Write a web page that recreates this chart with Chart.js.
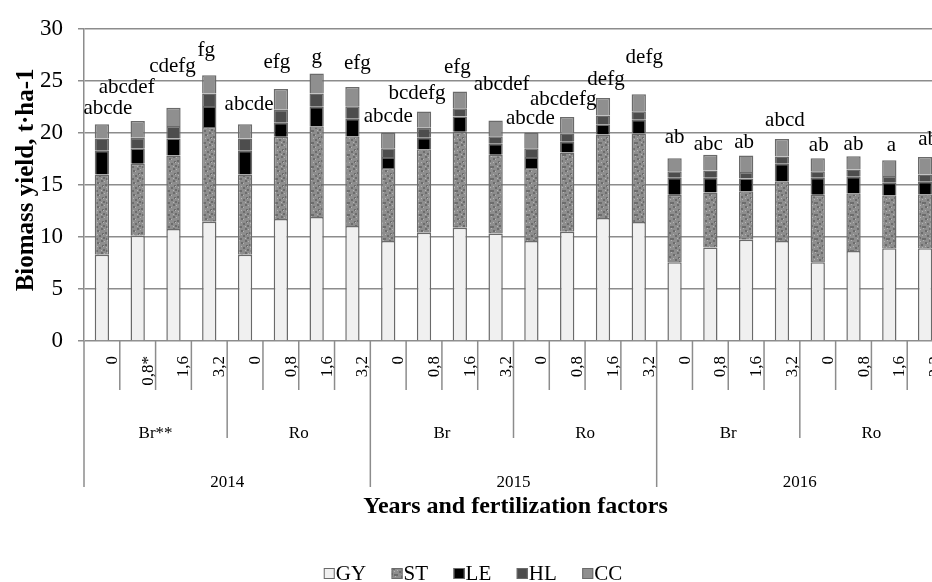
<!DOCTYPE html>
<html>
<head>
<meta charset="utf-8">
<script src="https://cdn.jsdelivr.net/npm/chart.js@4.4.1/dist/chart.umd.min.js"></script>
<style>
  html, body { margin: 0; padding: 0; background: #fff; overflow: hidden; }
  #wrap { width: 932px; height: 582px; overflow: hidden; position: relative; }
  canvas { display: block; }
</style>
</head>
<body>
<div id="wrap"><canvas id="chart" width="946" height="582"></canvas></div>
<script>
// Fertilization doses (t/ha) per bar, grouped by tillage system and year
const doses = ['0', '0,8*', '1,6', '3,2', '0', '0,8', '1,6', '3,2',
               '0', '0,8', '1,6', '3,2', '0', '0,8', '1,6', '3,2',
               '0', '0,8', '1,6', '3,2', '0', '0,8', '1,6', '3,2'];
const systems = ['Br**', 'Ro', 'Br', 'Ro', 'Br', 'Ro'];
const years = ['2014', '2015', '2016'];
const seriesNames = ['GY', 'ST', 'LE', 'HL', 'CC'];

// Biomass components, t ha-1
const GY = [8.29, 10.11, 10.77, 11.46, 8.29, 11.72, 11.91, 11.06,
            9.61, 10.39, 10.89, 10.33, 9.61, 10.49, 11.81, 11.43,
            7.56, 8.98, 9.73, 9.61, 7.56, 8.66, 8.91, 8.91];
const ST = [7.71, 6.93, 7.06, 9.11, 7.71, 7.91, 8.72, 8.62,
            7.02, 8.04, 9.21, 7.56, 7.02, 7.62, 8.03, 8.51,
            6.49, 5.29, 4.66, 5.73, 6.49, 5.54, 5.10, 5.20];
const LE = [2.27, 1.48, 1.64, 2.01, 2.27, 1.35, 1.89, 1.68,
            1.04, 1.10, 1.47, 1.07, 1.04, 1.04, 0.98, 1.32,
            1.64, 1.42, 1.23, 1.70, 1.64, 1.58, 1.20, 1.20];
const HL = [1.20, 1.01, 1.20, 1.20, 1.20, 1.23, 1.26, 1.20,
            0.85, 0.95, 0.80, 0.72, 0.85, 0.79, 0.85, 0.82,
            0.63, 0.69, 0.63, 0.70, 0.63, 0.69, 0.64, 0.69];
const CC = [1.35, 1.61, 1.75, 1.76, 1.35, 2.01, 1.92, 1.85,
            1.51, 1.57, 1.60, 1.51, 1.51, 1.58, 1.67, 1.64,
            1.23, 1.51, 1.58, 1.66, 1.23, 1.29, 1.51, 1.67];

// Significance letters over each stacked bar
const letters = ['abcde', 'abcdef', 'cdefg', 'fg', 'abcde', 'efg', 'g', 'efg',
                 'abcde', 'bcdefg', 'efg', 'abcdef', 'abcde', 'abcdefg', 'defg', 'defg',
                 'ab', 'abc', 'ab', 'abcd', 'ab', 'ab', 'a', 'ab'];

const SERIF = '"Liberation Serif", "Times New Roman", serif';
const GRID = '#8c8c8c';
const EDGE = '#6a6a6a';

// Grainy grey fill used for straw
function grainFill(ctx) {
  const p = document.createElement('canvas');
  p.width = 12; p.height = 12;
  const g = p.getContext('2d');
  g.fillStyle = '#8d8d8d';
  g.fillRect(0, 0, 12, 12);
  g.fillStyle = '#6c6c6c';
  [[1, 2], [5, 0], [9, 4], [3, 7], [7, 9], [10, 10], [0, 10], [6, 5]]
    .forEach(([x, y]) => g.fillRect(x, y, 2, 2));
  g.fillStyle = '#b4b4b4';
  [[3, 3], [8, 1], [1, 6], [10, 7], [5, 10], [7, 6], [11, 0]]
    .forEach(([x, y]) => g.fillRect(x, y, 1, 1));
  return ctx.createPattern(p, 'repeat');
}

const canvas = document.getElementById('chart');
const ctx = canvas.getContext('2d');
const fills = ['#f0f0f0', grainFill(ctx), '#000000', '#4d4d4d', '#8f8f8f'];
const values = [GY, ST, LE, HL, CC];

// Horizontal shift and lift (px) of each letter group relative to its bar top
const letterShift = [6, -11, -1, -3, 4, -4, 0, 5, 0, -7, -2.5, 6, -1, -4, 3, 5.5, 0, -2, -2, 3, 1, 0, 2, 3];
const letterLift = [10, 28, 36, 19, 14.7, 21.4, 10.7, 17.7, 10.7, 12.7, 19, 30.7, 9, 12.3, 13, 31, 15.3, 5, 7.3, 13, 7, 6.3, 9, 12.3];

const barLetters = {
  id: 'barLetters',
  afterDatasetsDraw(chart) {
    const c = chart.ctx;
    const topMeta = chart.getDatasetMeta(seriesNames.length - 1);
    c.save();
    c.font = '21px ' + SERIF;
    c.fillStyle = '#000';
    c.textAlign = 'center';
    c.textBaseline = 'alphabetic';
    topMeta.data.forEach((bar, i) => {
      c.fillText(letters[i], bar.x + letterShift[i], bar.y - letterLift[i]);
    });
    c.restore();
  }
};

// Multi-level category axis: doses, tillage systems, years, plus titles and legend
const axisDecor = {
  id: 'axisDecor',
  afterDraw(chart) {
    const c = chart.ctx;
    const a = chart.chartArea;
    const x = chart.scales.x;
    const step = x.getPixelForValue(1) - x.getPixelForValue(0);
    const edge = i => x.getPixelForValue(0) - step / 2 + i * step;
    c.save();
    c.strokeStyle = GRID;
    c.lineWidth = 1.5;
    for (let i = 0; i <= doses.length; i++) {
      const px = edge(i);
      let drop = 49;
      if (i % 8 === 0) drop = 146;
      else if (i % 4 === 0) drop = 97;
      c.beginPath();
      c.moveTo(px, a.bottom);
      c.lineTo(px, a.bottom + drop);
      c.stroke();
    }

    c.fillStyle = '#000';
    // dose labels, rotated
    c.font = '17px ' + SERIF;
    doses.forEach((d, i) => {
      c.save();
      c.translate(x.getPixelForValue(i) + 15, a.bottom + 15);
      c.rotate(-Math.PI / 2);
      c.textAlign = 'right';
      c.textBaseline = 'alphabetic';
      c.fillText(d, 0, 0);
      c.restore();
    });
    // tillage systems
    c.textAlign = 'center';
    c.textBaseline = 'alphabetic';
    systems.forEach((s, k) => {
      c.fillText(s, (edge(k * 4) + edge(k * 4 + 4)) / 2, a.bottom + 97);
    });
    // years
    years.forEach((y, k) => {
      c.fillText(y, (edge(k * 8) + edge(k * 8 + 8)) / 2, a.bottom + 145.5);
    });

    // axis titles
    c.font = 'bold 24px ' + SERIF;
    c.fillText('Years and fertilization factors', (a.left + a.right) / 2 + 2, a.bottom + 172);
    c.save();
    c.translate(33, (a.top + a.bottom) / 2 - 5);
    c.rotate(-Math.PI / 2);
    c.font = 'bold 25px ' + SERIF;
    c.textAlign = 'center';
    c.fillText('Biomass yield, t\u00B7ha-1', 0, 0);
    c.restore();

    // legend
    c.font = '21px ' + SERIF;
    const box = 11, gap = 1, space = 25.5;
    const widths = seriesNames.map(n => box + gap + c.measureText(n).width);
    const total = widths.reduce((s, w) => s + w, 0) + space * (widths.length - 1);
    let lx = chart.width / 2 - total / 2;
    const baseY = a.bottom + 239;
    c.textAlign = 'left';
    seriesNames.forEach((n, k) => {
      c.fillStyle = fills[k];
      c.fillRect(lx, baseY - 12, box, box);
      c.strokeStyle = EDGE;
      c.lineWidth = 1;
      c.strokeRect(lx + 0.5, baseY - 11.5, box - 1, box - 1);
      c.fillStyle = '#000';
      c.fillText(n, lx + box + gap, baseY);
      lx += widths[k] + space;
    });
    c.restore();
  }
};

new Chart(ctx, {
  type: 'bar',
  data: {
    labels: doses,
    datasets: seriesNames.map((n, k) => ({
      label: n,
      data: values[k],
      backgroundColor: fills[k],
      borderColor: EDGE,
      borderWidth: 1.5,
      barPercentage: 0.4,
      categoryPercentage: 1
    }))
  },
  options: {
    responsive: false,
    animation: false,
    devicePixelRatio: 1,
    layout: { padding: { left: 0, top: 23, right: 3, bottom: 241 } },
    plugins: { legend: { display: false }, tooltip: { enabled: false } },
    scales: {
      x: { stacked: true, display: false },
      y: {
        stacked: true,
        min: 0,
        max: 30,
        ticks: { stepSize: 5, color: '#000', padding: 15, font: { family: SERIF, size: 23 } },
        grid: { color: GRID, lineWidth: 1.5, tickLength: 6 },
        border: { color: GRID, width: 1.5 },
        afterFit(scale) { scale.width = 84; }
      }
    }
  },
  plugins: [barLetters, axisDecor]
});
</script>
</body>
</html>
